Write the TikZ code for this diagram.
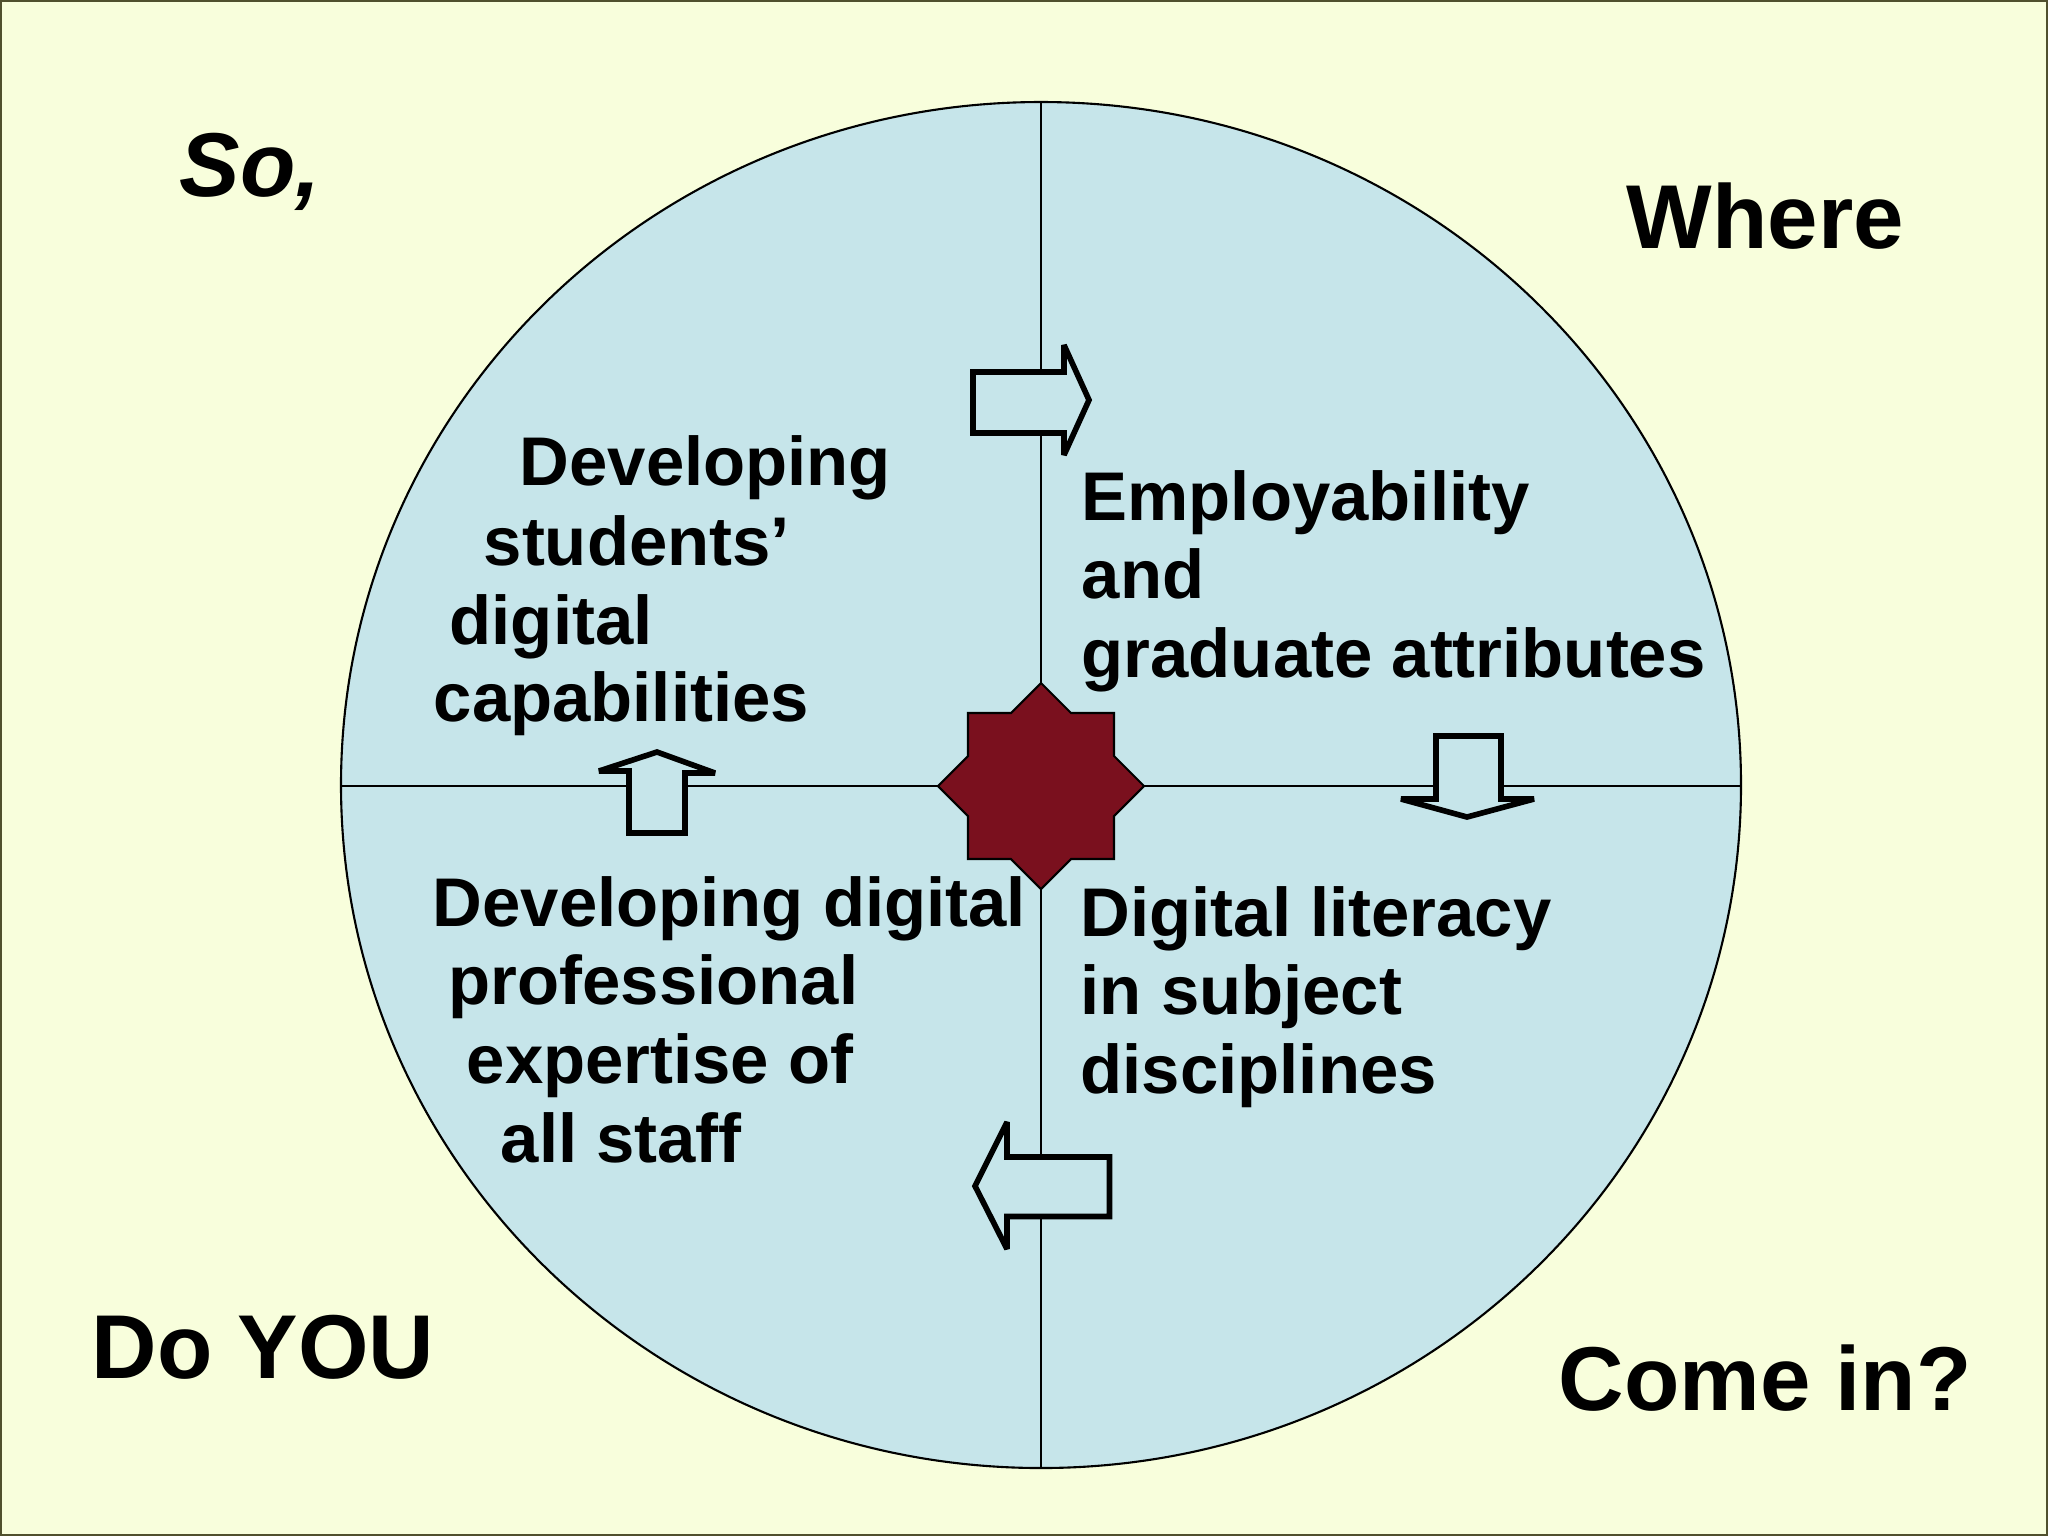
\documentclass[tikz,border=0pt]{standalone}
\usepackage{fontspec}
\setmainfont{Liberation Sans}
\definecolor{bg}{HTML}{F8FEDC}
\definecolor{disc}{HTML}{C6E5EA}
\definecolor{starred}{HTML}{7A101E}
\definecolor{framec}{HTML}{50502E}
\tikzset{
  inner/.style={anchor=base west, inner sep=0pt, font=\fontsize{19.6}{22.3}\selectfont\bfseries},
  corner/.style={anchor=base west, inner sep=0pt, font=\fontsize{25.8}{30}\selectfont\bfseries},
  blockarrow/.style={draw=black, fill=disc, line width=1.6pt, line join=miter, miter limit=2},
  quad/.style={draw=black, line width=0.6pt},
}
\begin{document}
\begin{tikzpicture}[x=0.1mm, y=-0.1mm]
\useasboundingbox (0,0) rectangle (2048,1536);
\fill[bg] (0,0) rectangle (2048,1536);
\draw[framec, line width=0.6pt] (1,1) rectangle (2047,1535);
% disc
\draw[fill=disc, line width=0.6pt] (1041,785) ellipse [x radius=700, y radius=683];
\coordinate (ctop) at (1041,102);
\coordinate (cbot) at (1041,1468);
\coordinate (cleft) at (341,786);
\coordinate (cright) at (1741,786);
\draw[quad] (ctop) -- (cbot);
\draw[quad] (cleft) -- (cright);
% star
\begin{scope}[shift={(1041,786)}]
\draw[fill=starred, line width=0.6pt] (0,-103) -- (30,-73) -- (73,-73) -- (73,-30) -- (103,0) -- (73,30) -- (73,73) -- (30,73) -- (0,103) -- (-30,73) -- (-73,73) -- (-73,30) -- (-103,0) -- (-73,-30) -- (-73,-73) -- (-30,-73) -- cycle;
\end{scope}
% block arrows
\draw[blockarrow] (973,372) -- (1064,372) -- (1064,345) -- (1089,400) -- (1064,455) -- (1064,433) -- (973,433) -- cycle;
\draw[blockarrow] (1436,736) -- (1501,736) -- (1501,799) -- (1534,799) -- (1467,817) -- (1401,799) -- (1436,799) -- cycle;
\draw[blockarrow] (629,833) -- (685,833) -- (685,773) -- (715,773) -- (657,752) -- (599,771) -- (629,771) -- cycle;
\draw[blockarrow] (1109.5,1157) -- (1007,1157) -- (1007,1122) -- (975,1186) -- (1007,1249) -- (1007,1216.5) -- (1109.5,1216.5) -- cycle;
% corner texts
\node[corner, font=\fontsize{25.8}{30}\selectfont\bfseries\itshape] (so) at (179,196) {So,};
\node[corner] (where) at (1626,248) {Where};
\node[corner] (doyou) at (91,1378) {Do YOU};
\node[corner] (comein) at (1558,1410) {Come in?};
% top-left
\node[inner] (tl1) at (519,485) {Developing};
\node[inner] (tl2) at (483,565) {students’};
\node[inner] (tl3) at (449,644) {digital};
\node[inner] (tl4) at (433,721) {capabilities};
% top-right
\node[inner] (tr1) at (1081,520) {Employability};
\node[inner] (tr2) at (1081,598) {and};
\node[inner] (tr3) at (1081,677) {graduate attributes};
% bottom-left
\node[inner] (bl1) at (432,926) {Developing digital};
\node[inner] (bl2) at (448,1004) {professional};
\node[inner] (bl3) at (466,1083) {expertise of};
\node[inner] (bl4) at (500,1162) {all staff};
% bottom-right
\node[inner] (br1) at (1080,936) {Digital literacy};
\node[inner] (br2) at (1080,1014) {in subject};
\node[inner] (br3) at (1080,1093) {disciplines};
\end{tikzpicture}
\end{document}
